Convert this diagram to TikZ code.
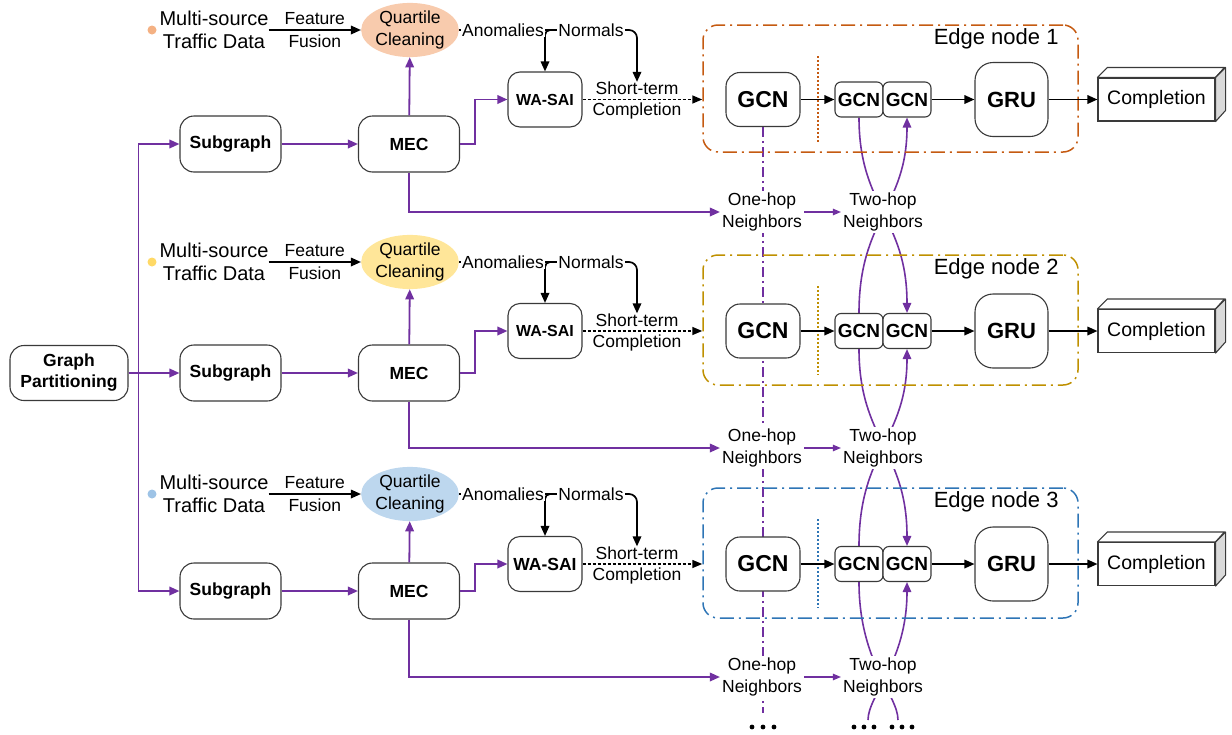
\documentclass[tikz,border=0pt]{standalone}
\usepackage{fontspec}
\setmainfont{Liberation Sans}
\usetikzlibrary{arrows.meta,calc,shapes.geometric}
\definecolor{pur}{HTML}{7030A0}
\definecolor{bd}{HTML}{3A3A3A}
\definecolor{ecA}{HTML}{C55A11}
\definecolor{ecB}{HTML}{BF9000}
\definecolor{ecC}{HTML}{2E75B6}
\definecolor{qA}{HTML}{F8CBAD}
\definecolor{qB}{HTML}{FFE699}
\definecolor{qC}{HTML}{BDD7EE}
\definecolor{dA}{HTML}{F4B183}
\definecolor{dB}{HTML}{FFD966}
\definecolor{dC}{HTML}{9DC3E6}
\definecolor{sidegray}{HTML}{DADADA}
\newcommand\fsz[2]{\fontsize{#1}{#2}\selectfont}
\pgfdeclarelayer{bg}
\pgfsetlayers{bg,main}
\begin{document}
\begin{tikzpicture}[x=1pt,y=-1pt,
  rbox/.style={draw=bd, line width=1.1pt, fill=white, rounded corners=14pt,
    inner sep=0pt, align=center, font=\bfseries\fsz{17.5}{21}},
  txt/.style={inner sep=0pt, align=center, font=\fsz{17.5}{21}},
  wtxt/.style={txt, fill=white, inner sep=2pt},
  parr/.style={draw=pur, line width=1.8pt, -{Triangle[length=10pt,width=8.5pt]}},
  barr/.style={draw=black, line width=1.7pt, -{Triangle[length=10pt,width=8.5pt]}},
  thinp/.style={draw=pur, line width=1.1pt, -{Triangle[length=8pt,width=6.5pt]}},
  dotarr/.style={draw=black, line width=1.5pt, dash pattern=on 3pt off 2pt,
    -{Triangle[length=10pt,width=8pt]}},
  ebox/.style={line width=1.5pt, rounded corners=15pt,
    dash pattern=on 14pt off 5pt on 2pt off 5pt, inner sep=0pt, minimum width=375pt},
  dotv/.style={line width=1.5pt, dash pattern=on 1.5pt off 2.5pt},
  sgcn/.style={rbox, rounded corners=6pt, minimum width=48pt, minimum height=35pt,
    font=\bfseries\fsz{19}{22}},
  link/.style={pur, line width=1.6pt},
]
\useasboundingbox (0,0) rectangle (1232,734);

% partitioning block on the left
\node[rbox, minimum width=118pt, minimum height=55pt] (gp) at (69,373) {Graph\\Partitioning};

\foreach \r/\yd/\ym/\yw/\yn/\yc/\bh/\yt/\yb/\ec/\qf/\df/\wf in {
  1/30/144/99.5/212/88.5/127/25/152/ecA/qA/dA/16,
  2/262/373/331/448/320/130/255/385/ecB/qB/dB/16,
  3/494/591/564/677/553/130/488/618/ecC/qC/dC/17.5}{
  % edge node frame
  \node[ebox, draw=\ec, minimum height=\bh] (eb\r) at (890.5,\yc) {};
  \node[anchor=base east, inner sep=0pt, font=\fsz{22}{26}] (el\r)
    at ($(eb\r.north east)+(-20,20)$) {Edge node \r};
  \draw[dotv, \ec] (818,{\yt+31}) -- (818,{\yb-10});

  % data source and cleaning
  \node[circle, fill=\df, minimum size=9pt, inner sep=0pt] (dot\r) at (152,\yd) {};
  \node[txt, font=\fsz{20}{23}] (ms\r) at (214,\yd) {Multi-source\\Traffic Data};
  \node[ellipse, fill=\qf, minimum width=84pt, minimum height=45pt, inner sep=0pt,
    align=center, font=\fsz{17.5}{22}] (q\r) at (410,\yd) {Quartile\\Cleaning};
  \node[wtxt, inner sep=1pt] (an\r) at (503,\yd) {Anomalies};
  \node[wtxt, inner sep=1pt] (no\r) at (591,\yd) {Normals};

  % processing chain
  \node[rbox, minimum width=101pt, minimum height=56pt] (sub\r) at (230.5,\ym) {Subgraph};
  \node[rbox, minimum width=101pt, minimum height=56pt] (mec\r) at (409,\ym) {MEC};
  \node[rbox, rounded corners=12pt, minimum width=74pt, minimum height=55pt,
    font=\bfseries\fsz{\wf}{20}] (wa\r) at (545,\yw) {WA-SAI};
  \node[txt] (st\r) at (637,{\yw-11}) {Short-term};
  \node[txt] (sc\r) at (637,{\yw+11.5}) {Completion};

  \node[wtxt, font=\fsz{17.5}{21.5}] (oh\r) at (762,\yn) {One-hop\\Neighbors};
  \node[wtxt, font=\fsz{17.5}{21.5}] (th\r) at (883,\yn) {Two-hop\\Neighbors};

  % edge node internals
  \node[rbox, minimum width=74pt, minimum height=54pt, font=\bfseries\fsz{23}{26}]
    (g\r) at (763,\yw) {GCN};
  \node[sgcn] (ga\r) at (859,\yw) {GCN};
  \node[sgcn] (gb\r) at (907,\yw) {GCN};
  \node[rbox, rounded corners=18pt, minimum width=73pt, minimum height=74pt,
    font=\bfseries\fsz{22}{26}] (gru\r) at (1011.5,\yw) {GRU};
  \node[draw=bd, line width=1.1pt, fill=white, minimum width=117pt, minimum height=43pt,
    inner sep=0pt, font=\fsz{19.5}{22}] (c\r) at (1156.5,\yw) {Completion};
  \draw[draw=bd, line width=1.1pt, fill=white, line join=round]
    (c\r.north west) -- ++(10,-10) -- ++(117,0) -- (c\r.north east) -- cycle;
  \draw[draw=bd, line width=1.1pt, fill=sidegray, line join=round]
    (c\r.north east) -- ++(10,-10) -- ++(0,43) -- (c\r.south east) -- cycle;

  % connectors
  \draw[barr] (ms\r.east |- q\r) -- (q\r.west)
    node[midway, above=4pt, txt] {Feature}
    node[midway, below=4pt, txt] {Fusion};
  \begin{pgfonlayer}{bg}
    \draw[barr, rounded corners=8pt] (q\r.east) -| (st\r.north);
    \draw[barr, rounded corners=5pt] (an\r.east) -| (wa\r.north);
  \end{pgfonlayer}
  \draw[dotarr] (wa\r.east) -- (wa\r -| eb\r.west);
  \draw[parr] (sub\r) -- (mec\r);
  \draw[parr] (mec\r) -- (q\r);
  \draw[parr] (mec\r.east) -- ++(15,0) |- (wa\r.west);
  \draw[parr] (mec\r.south) |- (oh\r.west);
  \draw[thinp] (oh\r.east) -- (th\r.west);
  \draw[barr] (g\r) -- (ga\r);
  \draw[barr] (gb\r) -- (gru\r);
  \draw[barr] (gru\r) -- (c\r);
}

% partitioning fan-out
\draw[parr] (gp.east) -- ++(10,0) |- (sub1.west);
\draw[parr] (gp.east) -- ++(10,0) |- (sub3.west);
\draw[parr] (gp.east) -- (sub2.west);

% ends of the open-ended links at the bottom
\coordinate (vend) at (763,713);
\coordinate (ca) at (898,720);
\coordinate (cb) at (868,720);
\foreach \x in {752,763,774,854,864,874,892,902,912}
  \fill (\x,727) circle (2.4);

\begin{pgfonlayer}{bg}
  \draw[pur, line width=1.5pt, dash pattern=on 10pt off 4pt on 2pt off 4pt] (g1.south) -- (vend);
  % two-hop links between neighbouring edge nodes
  \draw[link, -{Triangle[length=10pt,width=8.5pt]}]
    (ga1.south) .. controls +(0,90) and +(0,-95) .. (gb2.north);
  \draw[link, -{Triangle[length=10pt,width=8.5pt]}]
    (ga2.north) .. controls +(0,-95) and +(0,90) .. (gb1.south);
  \draw[link, -{Triangle[length=10pt,width=8.5pt]}]
    (ga2.south) .. controls +(0,90) and +(0,-95) .. (gb3.north);
  \draw[link, -{Triangle[length=10pt,width=8.5pt]}]
    (ga3.north) .. controls +(0,-95) and +(0,90) .. (gb2.south);
  \draw[link]
    (ga3.south) .. controls +(0,80) and +(0,-25) .. (ca);
  \draw[link, -{Triangle[length=10pt,width=8.5pt]}]
    (cb) .. controls +(0,-25) and +(0,80) .. (gb3.south);
\end{pgfonlayer}
\end{tikzpicture}
\end{document}
